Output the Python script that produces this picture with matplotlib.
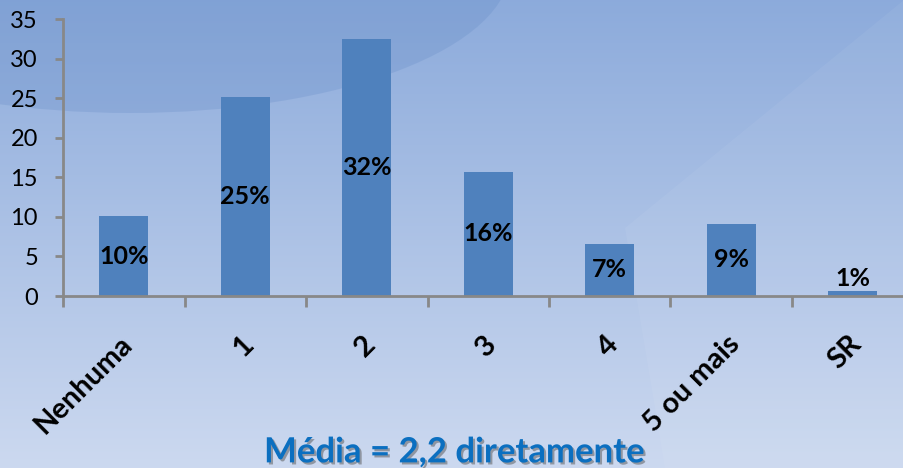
import numpy as np
import matplotlib.pyplot as plt
import matplotlib.patheffects as pe
import matplotlib.transforms as mtransforms
from matplotlib.patches import Ellipse, Polygon

categories = ['Nenhuma', '1', '2', '3', '4', '5 ou mais', 'SR']
values = [10.1, 25.1, 32.5, 15.7, 6.6, 9.1, 0.6]
pct_labels = ['10%', '25%', '32%', '16%', '7%', '9%', '1%']
yticks = [0, 5, 10, 15, 20, 25, 30, 35]

plt.rcParams['font.family'] = ['Lato', 'DejaVu Sans']

fig = plt.figure(figsize=(9.04, 4.68), dpi=100)

# background gradient (pixel coords)
bg = fig.add_axes([0, 0, 1, 1], zorder=-1)
grad = np.linspace(0, 1, 256).reshape(-1, 1)
top = np.array([0.55, 0.67, 0.86])
bot = np.array([0.80, 0.85, 0.94])
img = top + (bot - top) * grad[:, :, None]
bg.imshow(img, aspect='auto', extent=[0, 904, 0, 468], origin='upper')
bg.add_patch(Ellipse((130, 500), 760, 290, color='#6088C4', alpha=0.25, lw=0))
bg.add_patch(Polygon([[625, 240], [904, 468], [904, 0], [665, 0]],
                     closed=True, color='white', alpha=0.05, lw=0))
bg.set_xlim(0, 904)
bg.set_ylim(0, 468)
bg.axis('off')

ax = fig.add_axes([0.0697, 0.3675, 0.9408, 0.5919])
ax.set_facecolor('none')
x = np.arange(len(categories))
ax.bar(x, values, width=0.4, color='#4F81BD', zorder=2)

for xi, v, lab in zip(x, values, pct_labels):
    if v < 3:
        ax.text(xi, v + 0.2, lab, ha='center', va='bottom', fontsize=18,
                fontweight='bold', color='black')
    else:
        ax.text(xi, v / 2, lab, ha='center', va='center', fontsize=18,
                fontweight='bold', color='black')

ax.set_xlim(-0.5, len(categories) - 0.5)
ax.set_ylim(0, 35)
ax.set_yticks(yticks)
ax.tick_params(axis='y', labelsize=17, color='#888888', width=2, length=6,
               direction='out', pad=12)

ax.set_xticks(x)
ax.set_xticklabels(categories, rotation=45, ha='right', rotation_mode='anchor',
                   fontsize=21, fontweight='bold')
ax.tick_params(axis='x', length=0, pad=25)
shift = mtransforms.ScaledTranslation(-5 / 100, 0, fig.dpi_scale_trans)
for lbl in ax.get_xticklabels():
    lbl.set_transform(lbl.get_transform() + shift)
ax.set_xticks(np.arange(len(categories) + 1) - 0.5, minor=True)
ax.tick_params(axis='x', which='minor', length=8, width=2, color='#888888',
               direction='out')

for s in ['top', 'right']:
    ax.spines[s].set_visible(False)
for s in ['left', 'bottom']:
    ax.spines[s].set_color('#888888')
    ax.spines[s].set_linewidth(2)

fig.text(0.503, 0.012, 'Média = 2,2 diretamente', ha='center', va='baseline',
         fontsize=25, fontweight='bold', color='#0B6FC0',
         path_effects=[pe.SimplePatchShadow(offset=(1.5, -1.5), shadow_rgbFace='#555555', alpha=0.5),
                       pe.Normal()])

fig.savefig('out.png', dpi=100)
